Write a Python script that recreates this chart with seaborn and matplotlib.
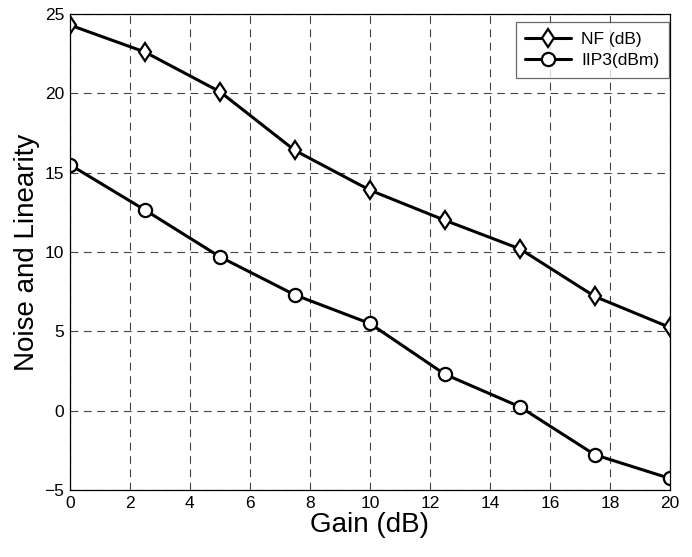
import numpy as np
import pandas as pd
import matplotlib
matplotlib.use("Agg")
import matplotlib.pyplot as plt
import seaborn as sns

# values
gain = [0, 2.5, 5, 7.5, 10, 12.5, 15, 17.5, 20]
nf_db = [24.3, 22.6, 20.1, 16.4, 13.9, 12.0, 10.2, 7.2, 5.25]
iip3_dbm = [15.5, 12.65, 9.7, 7.3, 5.5, 2.3, 0.25, -2.77, -4.26]
series_names = ["NF (dB)", "IIP3(dBm)"]
x_ticks = [0, 2, 4, 6, 8, 10, 12, 14, 16, 18, 20]
y_ticks = [-5, 0, 5, 10, 15, 20, 25]

df = pd.DataFrame({
    "gain": gain * 2,
    "value": nf_db + iip3_dbm,
    "series": [series_names[0]] * len(gain) + [series_names[1]] * len(gain),
})

sns.set_style("white")
plt.rcParams["font.family"] = ["Liberation Sans", "DejaVu Sans"]
plt.rcParams.update({"text.color": "black", "axes.labelcolor": "black",
                     "xtick.color": "black", "ytick.color": "black"})

fig = plt.figure(figsize=(6.92, 5.57), dpi=100)
ax = fig.add_axes([0.101, 0.120, 0.867, 0.855])

sns.lineplot(
    data=df, x="gain", y="value", hue="series", style="series",
    markers={series_names[0]: "d", series_names[1]: "o"},
    dashes=False, palette=["black", "black"],
    linewidth=2.2, markersize=9.5, markerfacecolor="white",
    markeredgecolor="black", markeredgewidth=1.6, ax=ax,
)

ax.set_xlim(0, 20)
ax.set_ylim(-5, 25)
ax.set_xticks(x_ticks)
ax.set_yticks(y_ticks)
ax.grid(True, color="#444444", linestyle=(0, (7, 5)), linewidth=0.8)
ax.tick_params(axis="both", labelsize=12.5, direction="in", length=4, pad=4)
ax.set_xlabel("Gain (dB)", fontsize=20, labelpad=1)
ax.set_ylabel("Noise and Linearity", fontsize=20, labelpad=3)
for s in ax.spines.values():
    s.set_color("black")
    s.set_linewidth(0.9)

leg = ax.legend(loc="upper right", fontsize=12.5, frameon=True, fancybox=False,
                edgecolor="#444444", handlelength=2.6, borderpad=0.55,
                labelspacing=0.35, handletextpad=0.6, borderaxespad=0,
                bbox_to_anchor=(0.998, 0.983))
leg.get_frame().set_linewidth(0.9)

fig.savefig("out.png", dpi=100)
